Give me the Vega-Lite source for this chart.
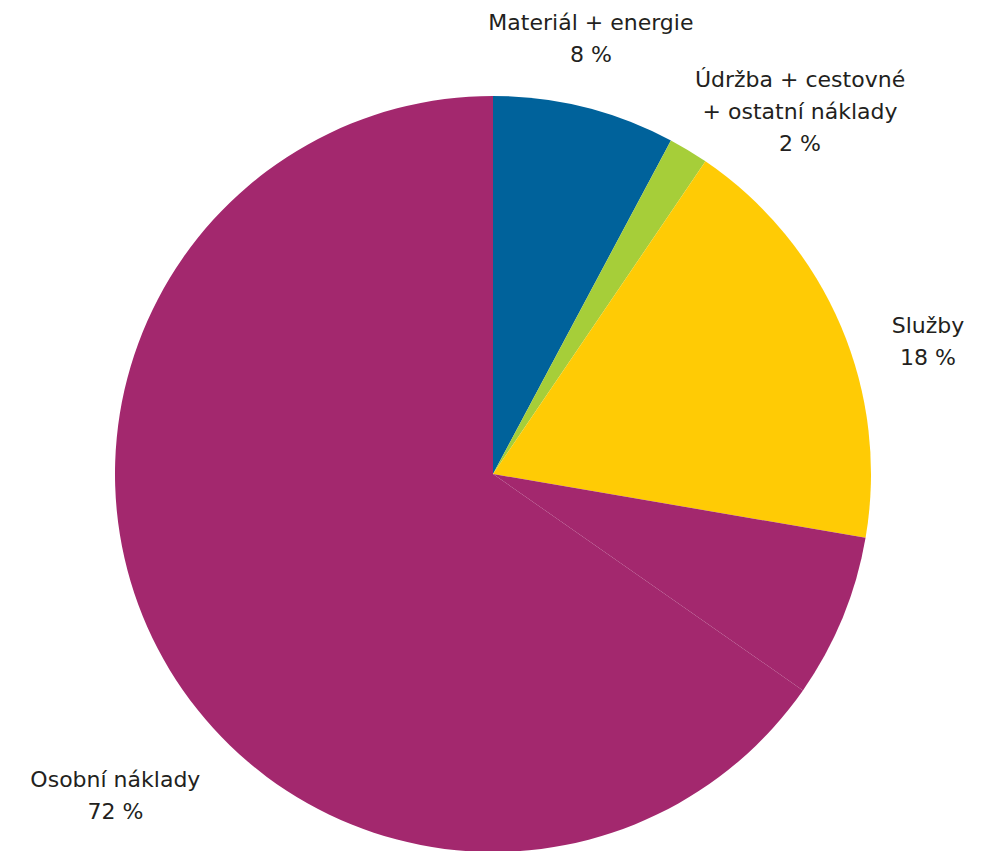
{
  "$schema": "https://vega.github.io/schema/vega-lite/v6.json",
  "width": 756,
  "height": 756,
  "autosize": {"type": "none"},
  "padding": {"left": 115, "top": 96, "right": 119, "bottom": 0},
  "background": "white",
  "config": {"view": {"stroke": null}},
  "datasets": {
    "slices": [
      {"poradi": 1, "kategorie": "Materiál + energie", "podil": 7.8},
      {"poradi": 2, "kategorie": "Údržba + cestovné + ostatní náklady", "podil": 1.7},
      {"poradi": 3, "kategorie": "Služby", "podil": 18.2},
      {"poradi": 4, "kategorie": "Osobní náklady A", "podil": 7.0},
      {"poradi": 5, "kategorie": "Osobní náklady B", "podil": 65.3}
    ],
    "labels": [
      {"poradi": 1, "kategorie": "Materiál + energie", "podil": 8, "popis": ["Materiál + energie", "8 %"]},
      {"poradi": 2, "kategorie": "Údržba + cestovné + ostatní náklady", "podil": 2, "popis": ["Údržba + cestovné", "+ ostatní náklady", "2 %"]},
      {"poradi": 3, "kategorie": "Služby", "podil": 18, "popis": ["Služby", "18 %"]},
      {"poradi": 4, "kategorie": "Osobní náklady", "podil": 72, "popis": ["Osobní náklady", "72 %"]}
    ]
  },
  "layer": [
    {
      "data": {"name": "slices"},
      "mark": {"type": "arc", "strokeWidth": 0},
      "encoding": {
        "theta": {"field": "podil", "type": "quantitative", "stack": true},
        "order": {"field": "poradi", "type": "quantitative"},
        "color": {
          "field": "kategorie",
          "type": "nominal",
          "legend": null,
          "scale": {
            "domain": ["Materiál + energie", "Údržba + cestovné + ostatní náklady", "Služby", "Osobní náklady A", "Osobní náklady B"],
            "range": ["#00629B", "#A6CE39", "#FFCB05", "#A3286E", "#A3286E"]
          }
        }
      }
    },
    {
      "data": {"name": "labels"},
      "mark": {"type": "text", "radius": 450, "dx": -14, "dy": -15, "font": "DejaVu Sans", "fontSize": 22, "lineHeight": 32, "align": "center", "baseline": "middle", "color": "#231F20"},
      "encoding": {
        "theta": {"field": "podil", "type": "quantitative", "stack": true},
        "order": {"field": "poradi", "type": "quantitative"},
        "text": {"condition": {"test": "datum.poradi == 1", "field": "popis"}, "value": ""}
      }
    },
    {
      "data": {"name": "labels"},
      "mark": {"type": "text", "radius": 476, "dx": 52, "dy": 8, "font": "DejaVu Sans", "fontSize": 22, "lineHeight": 32, "align": "center", "baseline": "middle", "color": "#231F20"},
      "encoding": {
        "theta": {"field": "podil", "type": "quantitative", "stack": true},
        "order": {"field": "poradi", "type": "quantitative"},
        "text": {"condition": {"test": "datum.poradi == 2", "field": "popis"}, "value": ""}
      }
    },
    {
      "data": {"name": "labels"},
      "mark": {"type": "text", "radius": 455, "dx": 12, "dy": 19, "font": "DejaVu Sans", "fontSize": 22, "lineHeight": 32, "align": "center", "baseline": "middle", "color": "#231F20"},
      "encoding": {
        "theta": {"field": "podil", "type": "quantitative", "stack": true},
        "order": {"field": "poradi", "type": "quantitative"},
        "text": {"condition": {"test": "datum.poradi == 3", "field": "popis"}, "value": ""}
      }
    },
    {
      "data": {"name": "labels"},
      "mark": {"type": "text", "radius": 494, "dx": 3, "dy": -9, "font": "DejaVu Sans", "fontSize": 22, "lineHeight": 32, "align": "center", "baseline": "middle", "color": "#231F20"},
      "encoding": {
        "theta": {"field": "podil", "type": "quantitative", "stack": true},
        "order": {"field": "poradi", "type": "quantitative"},
        "text": {"condition": {"test": "datum.poradi == 4", "field": "popis"}, "value": ""}
      }
    }
  ]
}
